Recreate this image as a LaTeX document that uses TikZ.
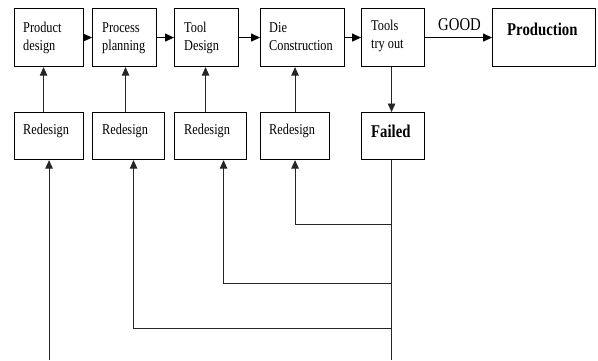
\documentclass[tikz,border=0pt]{standalone}
\usepackage{fontspec}
\setmainfont{Liberation Serif}[FakeStretch=0.82]
\usetikzlibrary{arrows.meta,calc}
\begin{document}
\begin{tikzpicture}[x=1pt,y=-1pt,
  box/.style={draw=black,line width=1.1pt,anchor=north west,inner sep=0pt},
  txt/.style={anchor=base west,inner sep=0pt,font=\fontsize{15}{18}\selectfont},
  btxt/.style={anchor=base west,inner sep=0pt,font=\fontsize{18}{21}\selectfont\bfseries},
  conn/.style={draw=black!85,line width=0.9pt},
  arr/.style={conn,-{Triangle[length=8.5pt,width=7.5pt]}},
  harr/.style={draw=black,line width=1.2pt,-{Triangle[length=9pt,width=8pt]}}]
\useasboundingbox (0,0) rectangle (598,360);
% top row boxes
\node[box,minimum width=69pt,minimum height=58pt] (b1) at (14,8) {};
\node[box,minimum width=64pt,minimum height=58pt] (b2) at (92,8) {};
\node[box,minimum width=64pt,minimum height=58pt] (b3) at (174,8) {};
\node[box,minimum width=84pt,minimum height=58pt] (b4) at (260,8) {};
\node[box,minimum width=63pt,minimum height=58pt] (b5) at (361,8) {};
\node[box,minimum width=103pt,minimum height=58pt] (prod) at (492,8) {};
% second row boxes
\node[box,minimum width=69pt,minimum height=47pt] (r1) at (14,112) {};
\node[box,minimum width=72pt,minimum height=47pt] (r2) at (92,112) {};
\node[box,minimum width=72pt,minimum height=47pt] (r3) at (174,112) {};
\node[box,minimum width=69pt,minimum height=47pt] (r4) at (260,112) {};
\node[box,minimum width=63pt,minimum height=47pt] (fail) at (361,112) {};
% texts
\node[txt] (t1) at (23,32) {\begin{tabular}[t]{@{}l@{}}Product\\design\end{tabular}};
\node[txt] (t2) at (102,32) {\begin{tabular}[t]{@{}l@{}}Process\\planning\end{tabular}};
\node[txt] (t3) at (184,32) {\begin{tabular}[t]{@{}l@{}}Tool\\Design\end{tabular}};
\node[txt] (t4) at (269,32) {\begin{tabular}[t]{@{}l@{}}Die\\Construction\end{tabular}};
\node[txt] (t5) at (371,30) {\begin{tabular}[t]{@{}l@{}}Tools\\try out\end{tabular}};
\node[btxt] (tp) at (507,35) {Production};
\node[txt] (tr1) at (23,134) {Redesign};
\node[txt] (tr2) at (102,134) {Redesign};
\node[txt] (tr3) at (184,134) {Redesign};
\node[txt] (tr4) at (269,134) {Redesign};
\node[btxt] (tf) at (371,137) {Failed};
\node[anchor=base west,inner sep=0pt,font=\fontsize{18}{21}\selectfont] (good) at (438,30) {GOOD};
\coordinate (bot) at (0,360);
% top row arrows
\draw[harr] (b1.east) -- (b2.west);
\draw[harr] (b2.east) -- (b3.west);
\draw[harr] (b3.east) -- (b4.west);
\draw[harr] (b4.east) -- (b5.west);
\draw[harr] (b5.east) -- (prod.west);
% redesign up arrows
\draw[arr] ([xshift=-5.5pt]r1.north) -- ([xshift=-5.5pt]r1.north |- b1.south);
\draw[arr] ([xshift=-3pt]r2.north) -- ([xshift=-3pt]r2.north |- b2.south);
\draw[arr] ([xshift=-5pt]r3.north) -- ([xshift=-5pt]r3.north |- b3.south);
\draw[arr] (r4.north) -- (r4.north |- b4.south);
% tools try out to failed
\draw[arr] ([xshift=-1.5pt]b5.south) -- ([xshift=-1.5pt]fail.north);
% feedback lines
\draw[conn] ([xshift=-1.5pt]fail.south) -- ([xshift=-1.5pt]fail.south |- bot);
\draw[arr] ([xshift=-1.5pt]fail.south |- 0,224) -| (r4.south);
\draw[arr] ([xshift=-1.5pt]fail.south |- 0,283) -| ([xshift=13pt]r3.south);
\draw[arr] ([xshift=-1.5pt]fail.south |- 0,328) -| ([xshift=5pt]r2.south);
\draw[arr] (r1.south |- bot) -- (r1.south);
\end{tikzpicture}
\end{document}
